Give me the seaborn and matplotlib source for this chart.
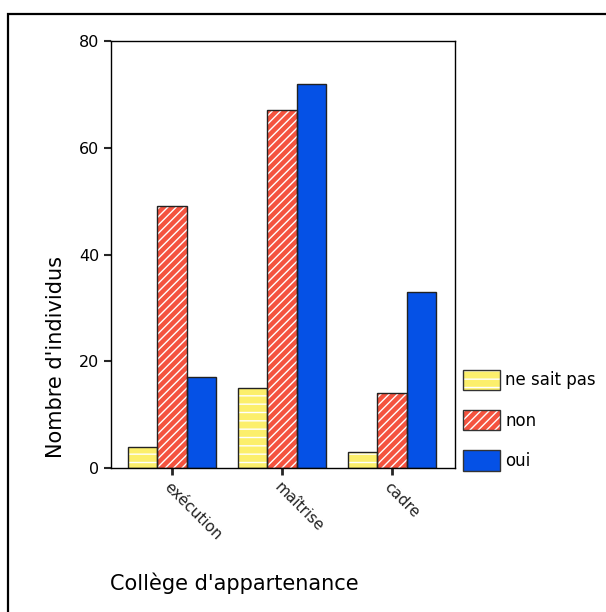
import matplotlib
matplotlib.use("Agg")
import matplotlib.pyplot as plt
from matplotlib.patches import Rectangle, Patch
from matplotlib.legend_handler import HandlerTuple
import seaborn as sns
import pandas as pd

# valeurs
colleges = ["exécution", "maîtrise", "cadre"]
reponses = ["ne sait pas", "non", "oui"]
ne_sait_pas = [4, 15, 3]
non = [49, 67, 14]
oui = [17, 72, 33]

couleurs = ["#fcef6c", "#f4533f", "#0551e6"]
hachures = ["--", "////", ""]

df = pd.DataFrame({
    "college": colleges * 3,
    "reponse": [r for r in reponses for _ in colleges],
    "n": ne_sait_pas + non + oui,
})

sns.set_style("white")
plt.rcParams["font.family"] = ["DejaVu Sans"]
plt.rcParams["text.color"] = "black"
plt.rcParams["axes.labelcolor"] = "black"
plt.rcParams["hatch.linewidth"] = 1.0

fig = plt.figure(figsize=(6.06, 6.12), dpi=100)
ax = fig.add_axes([0.183, 0.2353, 0.568, 0.6977])

sns.barplot(data=df, x="college", y="n", hue="reponse", order=colleges,
            hue_order=reponses, palette=couleurs, width=0.8, saturation=1,
            ax=ax, legend=False)

# hachures blanches + contour sombre
for i, cont in enumerate(ax.containers):
    for bar in cont:
        bar.set_hatch(hachures[i])
        bar.set_edgecolor("white")
        bar.set_linewidth(0)
        ax.add_patch(Rectangle(bar.get_xy(), bar.get_width(), bar.get_height(),
                               fill=False, edgecolor="#222222", linewidth=1.0,
                               zorder=bar.get_zorder() + 0.1))

ax.set_ylim(0, 80)
ax.set_xlim(-0.555, 2.573)
ax.set_yticks([0, 20, 40, 60, 80])
ax.tick_params(axis="y", labelsize=11.5, length=5, width=1.5, direction="out",
               left=True, labelcolor="black")
ax.tick_params(axis="x", length=5, width=2, direction="out", bottom=True)
ax.set_xticks(range(len(colleges)))
ax.set_xticklabels(colleges, rotation=-45, ha="left", va="top",
                   rotation_mode="anchor", fontsize=11, color="#222222")
for s in ax.spines.values():
    s.set_visible(True)
    s.set_color("black")
    s.set_linewidth(1.0)

ax.set_ylabel("Nombre d'individus", fontsize=15)
ax.yaxis.set_label_coords(-0.131, 0.26)
ax.set_xlabel("Collège d'appartenance", fontsize=15)
ax.xaxis.set_label_coords(0.358, -0.244)

handles = []
for c, h in zip(couleurs, hachures):
    fond = Patch(facecolor=c, edgecolor="white", hatch=h, linewidth=0)
    bord = Patch(facecolor="none", edgecolor="#333333", linewidth=1.0)
    handles.append((fond, bord))
fig.legend(handles=handles, labels=reponses, loc="lower left",
           bbox_to_anchor=(0.74, 0.2065), frameon=False, fontsize=12,
           handlelength=2.2, handleheight=1.5, labelspacing=1.2,
           handletextpad=0.3,
           handler_map={tuple: HandlerTuple(ndivide=1, pad=0)})

# cadre autour de la figure
fig.patches.append(Rectangle((0.0132, -0.05), 1.1, 0.977 + 0.05,
                             transform=fig.transFigure, fill=False,
                             edgecolor="black", linewidth=1.6))

fig.savefig("out.png", dpi=100)
